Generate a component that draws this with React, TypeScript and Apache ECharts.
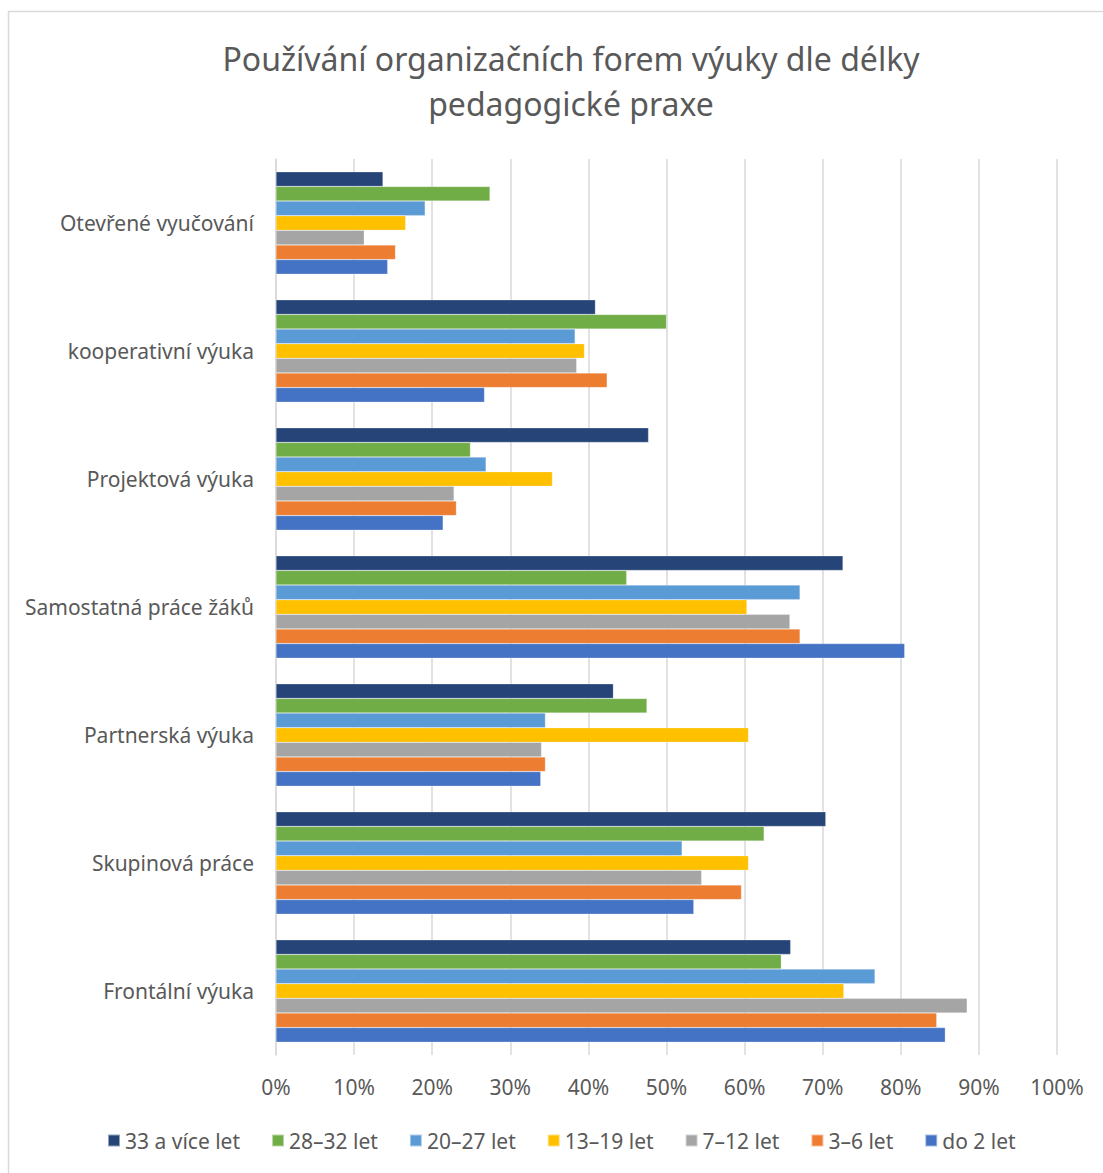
import React, { useEffect, useRef } from "react";
import * as echarts from "echarts";

const categories = [
  "Frontální výuka",
  "Skupinová práce",
  "Partnerská výuka",
  "Samostatná práce žáků",
  "Projektová výuka",
  "kooperativní výuka",
  "Otevřené vyučování",
];

// series listed top bar first within each group
const seriesNames = ["33 a více let", "28–32 let", "20–27 let", "13–19 let", "7–12 let", "3–6 let", "do 2 let"];
const seriesColors = ["#264478", "#70AD47", "#5B9BD5", "#FFC000", "#A5A5A5", "#ED7D31", "#4472C4"];

// values in %, order matches categories (bottom to top)
const let33plus = [65.9, 70.4, 43.2, 72.6, 47.7, 40.9, 13.7];
const let28to32 = [64.7, 62.5, 47.5, 44.9, 24.9, 50.0, 27.4];
const let20to27 = [76.7, 52.0, 34.5, 67.1, 26.9, 38.3, 19.1];
const let13to19 = [72.7, 60.5, 60.5, 60.3, 35.4, 39.5, 16.6];
const let7to12 = [88.5, 54.5, 34.0, 65.8, 22.8, 38.5, 11.3];
const let3to6 = [84.6, 59.6, 34.5, 67.1, 23.1, 42.4, 15.3];
const do2 = [85.7, 53.5, 33.9, 80.5, 21.4, 26.7, 14.3];

const seriesValues = [let33plus, let28to32, let20to27, let13to19, let7to12, let3to6, do2];
const xTicks = { min: 0, max: 100, interval: 10 };

const FONT = "'Noto Sans', sans-serif";
const TEXT = "#595959";

export default function App() {
  const ref = useRef<HTMLDivElement>(null);
  useEffect(() => {
    document.body.style.margin = "0";
    const chart = echarts.init(ref.current!, null, { renderer: "svg" });
    chart.setOption({
      animation: false,
      backgroundColor: "#ffffff",
      textStyle: { fontFamily: FONT },
      graphic: [
        {
          type: "rect",
          shape: { x: 8.5, y: 11.5, width: 1200, height: 1300 },
          style: { fill: "none", stroke: "#d9d9d9", lineWidth: 1.5 },
          silent: true,
        },
      ],
      title: {
        text: "Používání organizačních forem výuky dle délky\npedagogické praxe",
        left: 566,
        textAlign: "center",
        top: 31,
        textStyle: { fontFamily: FONT, fontSize: 32, fontWeight: "normal", color: TEXT, lineHeight: 45 },
      },
      legend: {
        data: seriesNames,
        bottom: 17,
        left: 102,
        padding: 5,
        itemWidth: 12,
        itemHeight: 12,
        itemGap: 31,
        icon: "rect",
        textStyle: { fontFamily: FONT, fontSize: 21, color: TEXT, padding: [0, 0, 0, 0] },
      },
      grid: { left: 276, right: 46, top: 159, bottom: 118, containLabel: false },
      xAxis: {
        type: "value",
        min: xTicks.min,
        max: xTicks.max,
        interval: xTicks.interval,
        axisLabel: { formatter: "{value}%", fontSize: 21, color: TEXT, fontFamily: FONT, margin: 21 },
        axisLine: { show: false },
        axisTick: { show: false },
        splitLine: { lineStyle: { color: "#d9d9d9", width: 1.5 } },
      },
      yAxis: {
        type: "category",
        data: categories,
        axisLabel: { fontSize: 21, color: TEXT, fontFamily: FONT, margin: 22 },
        axisLine: { show: true, lineStyle: { color: "#d9d9d9", width: 1.5 } },
        axisTick: { show: false },
      },
      series: seriesNames.map((name, i) => ({
        name,
        type: "bar",
        data: seriesValues[i],
        barGap: "0%",
        barCategoryGap: "20%",
        itemStyle: { color: seriesColors[i], borderColor: "rgba(255,255,255,0.5)", borderWidth: 0.5 },
      })),
    });
    return () => chart.dispose();
  }, []);
  return <div ref={ref} style={{ width: 1103, height: 1173 }} />;
}
